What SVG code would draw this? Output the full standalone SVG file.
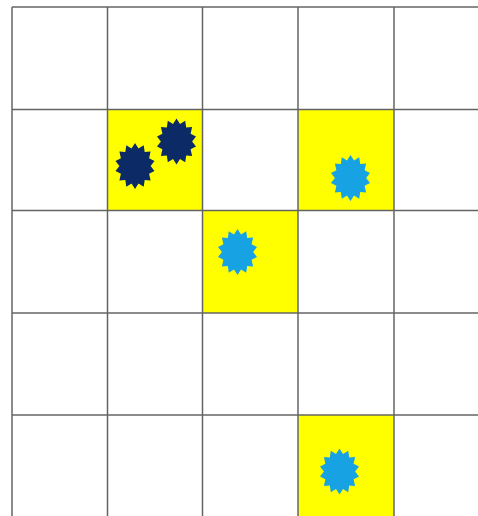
<svg xmlns="http://www.w3.org/2000/svg" xmlns:xlink="http://www.w3.org/1999/xlink" width="478" height="516" viewBox="0 0 478 516">
  <style>
    .cell { fill: #ffff00; stroke: none; }
    .grid line { stroke: #646464; stroke-width: 1.5; }
    .dark { fill: #0b2a66; }
    .blue { fill: #17a2e4; }
  </style>
  <defs>
    <path id="star" d="M0,-23 L3.5,-17.5 L8.7,-20.7 L9.7,-14 L15.6,-14.4 L14.1,-7.8 L19.5,-5.1 L15.6,0 L19.5,5.1 L14.1,7.8 L15.6,14.4 L9.7,14 L8.7,20.7 L3.5,17.5 L0,23 L-3.5,17.5 L-8.7,20.7 L-9.7,14 L-15.6,14.4 L-14.1,7.8 L-19.5,5.1 L-15.6,0 L-19.5,-5.1 L-14.1,-7.8 L-15.6,-14.4 L-9.7,-14 L-8.7,-20.7 L-3.5,-17.5 Z"/>
  </defs>
  <rect width="478" height="516" fill="#ffffff"/>
  <g id="cells">
    <rect id="cell-b2" class="cell" x="107.5" y="109.5" width="95" height="101"/>
    <rect id="cell-d2" class="cell" x="298" y="109.5" width="96" height="101"/>
    <rect id="cell-c3" class="cell" x="202.5" y="210.5" width="95.5" height="102.5"/>
    <rect id="cell-d5" class="cell" x="298" y="415" width="96" height="101"/>
  </g>
  <g class="grid" id="grid">
    <line x1="12" y1="7" x2="12" y2="516"/>
    <line x1="107.5" y1="7" x2="107.5" y2="516"/>
    <line x1="202.5" y1="7" x2="202.5" y2="516"/>
    <line x1="298" y1="7" x2="298" y2="516"/>
    <line x1="394" y1="7" x2="394" y2="516"/>
    <line x1="12" y1="7" x2="478" y2="7"/>
    <line x1="12" y1="109.5" x2="478" y2="109.5"/>
    <line x1="12" y1="210.5" x2="478" y2="210.5"/>
    <line x1="12" y1="313" x2="478" y2="313"/>
    <line x1="12" y1="415" x2="478" y2="415"/>
  </g>
  <g id="star-dark-1"><use xlink:href="#star" href="#star" class="dark" transform="translate(135,166)"/></g>
  <g id="star-dark-2"><use xlink:href="#star" href="#star" class="dark" transform="translate(176.5,141.5)"/></g>
  <g id="star-blue-1"><use xlink:href="#star" href="#star" class="blue" transform="translate(350.5,178)"/></g>
  <g id="star-blue-2"><use xlink:href="#star" href="#star" class="blue" transform="translate(237.5,252)"/></g>
  <g id="star-blue-3"><use xlink:href="#star" href="#star" class="blue" transform="translate(339.5,471.5)"/></g>
</svg>
